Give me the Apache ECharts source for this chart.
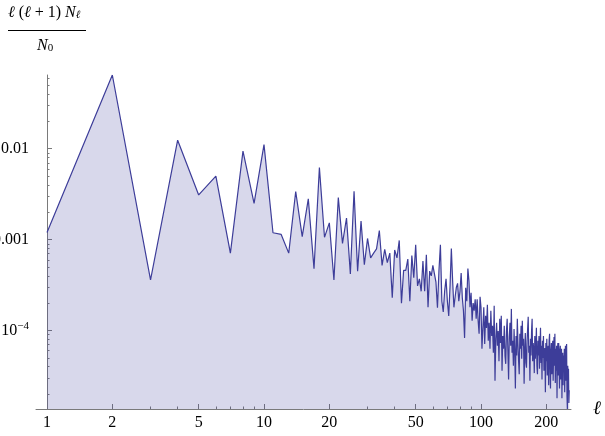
<!DOCTYPE html>
<html>
<head>
<meta charset="utf-8">
<script src="https://cdn.jsdelivr.net/npm/echarts@6/dist/echarts.min.js"></script>
<style>
html, body { margin: 0; padding: 0; background: #fff; }
#chart { width: 605px; height: 436px; }
</style>
</head>
<body>
<div id="chart"></div>
<script>
// l(l+1) N_l / N_0, l = 1 .. 255
const valuesLow = [ // l = 1..60
  0.0012, 0.0647, 3.6e-4, 0.0124, 0.0031, 0.0050, 7.1e-4, 0.0094, 0.0025, 0.0111,
  0.00119, 0.00114, 7.1e-4, 0.00338, 0.00108, 0.00281, 4.8e-4, 0.0062, 0.00106, 0.00153,
  3.6e-4, 0.0029, 9.1e-4, 0.00173, 4.2e-4, 0.0034, 4.5e-4, 0.0016, 5.3e-4, 0.00103,
  6.3e-4, 7.1e-4, 7.9e-4, 0.00126, 5.2e-4, 7.8e-4, 5.6e-4, 7.1e-4, 2.3e-4, 7.7e-4,
  6.3e-4, 9.8e-4, 2.0e-4, 4.6e-4, 4.6e-4, 6.1e-4, 2.1e-4, 6.7e-4, 3.8e-4, 8.8e-4,
  3.1e-4, 3.7e-4, 2.7e-4, 5.8e-4, 2.7e-4, 6.8e-4, 1.8e-4, 4.5e-4, 4.0e-4, 5.2e-4
];
const valuesMid = [ // l = 61..150
  5.4e-4, 3.4e-4, 1.78e-4, 4.55e-4, 8.8e-4, 2.1e-4, 1.6e-4, 2.74e-4, 3.7e-4, 2.1e-4,
  1.45e-4, 3.1e-4, 8.0e-4, 3.5e-4, 1.8e-4, 2.35e-4, 3.0e-4, 3.3e-4, 2.1e-4, 2.7e-4,
  4.3e-4, 2.3e-4, 1.65e-4, 8.3e-5, 2.95e-4, 2.1e-4, 4.8e-4, 3.5e-4, 1.8e-4, 2.6e-4,
  1.28e-4, 2.0e-4, 1.65e-4, 2.2e-4, 1.35e-4, 2.2e-4, 1.28e-4, 9.2e-5, 2.35e-4, 1.8e-4,
  6.3e-5, 1.07e-4, 1.8e-4, 7.1e-5, 1.45e-4, 1.07e-4, 1.92e-4, 7.7e-5, 1.22e-4, 6.3e-5,
  1.65e-4, 8.7e-5, 1.13e-4, 5.7e-5, 1.87e-4, 2.8e-5, 8.1e-5, 1.22e-4, 6.8e-5, 9.9e-5,
  4.6e-5, 1.35e-4, 7.3e-5, 1.45e-4, 3.6e-5, 8.7e-5, 6.3e-5, 1.13e-4, 5.3e-5, 4.3e-5,
  9.9e-5, 1.35e-4, 6.0e-5, 2.9e-5, 8.5e-5, 1.22e-4, 6.8e-5, 1.73e-4, 5.7e-5, 7.7e-5,
  4.1e-5, 1.04e-4, 6.0e-5, 2.3e-5, 8.7e-5, 5.3e-5, 1.35e-4, 7.3e-5, 4.6e-5, 3.3e-5
];
const valuesHigh = [ // l = 151..255
  9.2e-5, 6.3e-5, 1.13e-4, 4.9e-5, 1.28e-4, 6.8e-5, 8.1e-5, 2.6e-5, 6.0e-5, 9.4e-5,
  4.4e-5, 3.9e-5, 7.7e-5, 1.04e-4, 1.42e-4, 5.7e-5, 6.8e-5, 2.8e-5, 8.1e-5, 5.3e-5,
  9.9e-5, 1.35e-4, 4.6e-5, 7.3e-5, 6.0e-5, 3.4e-5, 8.7e-5, 4.9e-5, 6.8e-5, 1.07e-4,
  4.1e-5, 3.3e-5, 7.7e-5, 5.3e-5, 8.7e-5, 3.8e-5, 6.3e-5, 1.07e-4, 4.4e-5, 6.8e-5,
  2.9e-5, 7.7e-5, 5.0e-5, 8.7e-5, 3.6e-5, 6.0e-5, 6.4e-5, 2.1e-5, 7.3e-5, 4.6e-5,
  8.1e-5, 3.2e-5, 5.7e-5, 6.8e-5, 2.5e-5, 7.7e-5, 9.2e-5, 3.8e-5, 2.3e-5, 6.0e-5,
  7.3e-5, 3.3e-5, 4.9e-5, 7.7e-5, 2.8e-5, 5.7e-5, 8.5e-5, 4.1e-5, 9.2e-5, 2.65e-5,
  6.3e-5, 3.6e-5, 6.8e-5, 1.8e-5, 5.3e-5, 7.3e-5, 3.2e-5, 7.3e-5, 4.4e-5, 2.3e-5,
  6.0e-5, 6.8e-5, 2.9e-5, 4.9e-5, 6.3e-5, 1.8e-5, 4.6e-5, 5.7e-5, 2.5e-5, 5.3e-5,
  3.6e-5, 6.3e-5, 2.1e-5, 4.4e-5, 6.8e-5, 2.8e-5, 4.9e-5, 7.1e-5, 1.9e-5, 1.37e-5,
  4.1e-5, 2.5e-5, 3.8e-5, 1.6e-5, 2.2e-5
];

const xMajorTicks = [1, 2, 5, 10, 20, 50, 100, 200];
const xMinorTicks = [3, 4, 6, 7, 8, 9, 30, 40, 60, 70, 80, 90];
const yMajorTicks = [0.01, 0.001, 0.0001];
const yTickLabels = ['0.01', '0.001', '{b|10}{sup|\u22124}'];
const yMinorTicks = [
  2e-5, 3e-5, 4e-5, 5e-5, 6e-5, 7e-5, 8e-5, 9e-5,
  2e-4, 3e-4, 4e-4, 5e-4, 6e-4, 7e-4, 8e-4, 9e-4,
  2e-3, 3e-3, 4e-3, 5e-3, 6e-3, 7e-3, 8e-3, 9e-3,
  2e-2, 3e-2, 4e-2, 5e-2, 6e-2
];

const values = valuesLow.concat(valuesMid, valuesHigh);
// log-log plot: both axes carry log10 of the data
const points = values.map((v, i) => [Math.log10(i + 1), Math.log10(v)]);
const lg = a => a.map(v => Math.log10(v));

const serif = "'Liberation Serif', 'Times New Roman', serif";
const axisColor = '#7a7a7a';
const xMin = -0.0507, xMax = 2.4147;

const chart = echarts.init(document.getElementById('chart'));
chart.setOption({
  animation: false,
  grid: { left: 36, right: 34, top: 75, bottom: 27, outerBoundsMode: 'none', containLabel: false },
  xAxis: [
    {
      type: 'value', min: xMin, max: xMax, position: 'bottom',
      axisLine: { onZero: false, lineStyle: { color: axisColor, width: 1 } },
      axisTick: { inside: true, length: 5, customValues: lg(xMajorTicks), lineStyle: { color: axisColor } },
      axisLabel: {
        customValues: lg(xMajorTicks), margin: 6,
        fontFamily: serif, fontSize: 16, color: '#000',
        formatter: v => String(Math.round(Math.pow(10, v)))
      },
      splitLine: { show: false },
      name: 'ℓ', nameLocation: 'end', nameGap: 22,
      nameTextStyle: { fontFamily: serif, fontSize: 19, fontStyle: 'italic', color: '#000', verticalAlign: 'middle' }
    },
    {
      type: 'value', min: xMin, max: xMax, position: 'bottom',
      axisLine: { show: false, onZero: false },
      axisTick: { inside: true, length: 2.5, customValues: lg(xMinorTicks), lineStyle: { color: axisColor } },
      axisLabel: { show: false },
      splitLine: { show: false }
    }
  ],
  yAxis: [
    {
      type: 'value', min: v => v.min, max: v => v.max, position: 'left',
      axisLine: { onZero: true, onZeroAxisIndex: 0, lineStyle: { color: axisColor, width: 1 } },
      axisTick: { inside: true, length: 5, customValues: lg(yMajorTicks), lineStyle: { color: axisColor } },
      axisLabel: {
        customValues: lg(yMajorTicks), margin: 7,
        fontFamily: serif, fontSize: 16, color: '#000',
        formatter: v => {
          let k = 0;
          lg(yMajorTicks).forEach((t, i) => { if (Math.abs(t - v) < 1e-6) k = i; });
          return yTickLabels[k];
        },
        rich: {
          b: { fontFamily: serif, fontSize: 16, color: '#000' },
          sup: { fontFamily: serif, fontSize: 11, color: '#000', padding: [0, 0, 9, 0] }
        }
      },
      splitLine: { show: false }
    },
    {
      type: 'value', min: v => v.min, max: v => v.max, position: 'left',
      axisLine: { show: false, onZero: true, onZeroAxisIndex: 0 },
      axisTick: { inside: true, length: 2.5, customValues: lg(yMinorTicks), lineStyle: { color: axisColor } },
      axisLabel: { show: false },
      splitLine: { show: false }
    }
  ],
  series: [
    {
      type: 'line',
      data: points,
      xAxisIndex: 0,
      yAxisIndex: 0,
      showSymbol: false,
      lineStyle: { color: '#3d3d99', width: 1.2 },
      areaStyle: { color: '#3d3d99', opacity: 0.2, origin: 'start' }
    },
    {
      type: 'line', data: points, xAxisIndex: 1, yAxisIndex: 1,
      showSymbol: false, lineStyle: { opacity: 0 }, silent: true
    }
  ],
  graphic: [
    {
      type: 'text', left: 8, top: 5,
      style: {
        text: '{i|ℓ} ({i|ℓ} + 1) {i|N}{sub|ℓ}',
        fill: '#000', font: "16px 'Liberation Serif', serif",
        rich: {
          i: { fontStyle: 'italic', fontFamily: serif, fontSize: 16, fill: '#000' },
          sub: { fontStyle: 'italic', fontFamily: serif, fontSize: 11, fill: '#000', padding: [5, 0, 0, 0] }
        }
      }
    },
    {
      type: 'line',
      shape: { x1: 8, y1: 30.5, x2: 86, y2: 30.5 },
      style: { stroke: '#000', lineWidth: 1 }
    },
    {
      type: 'text', left: 37, top: 38,
      style: {
        text: '{i|N}{sub|0}',
        fill: '#000', font: "16px 'Liberation Serif', serif",
        rich: {
          i: { fontStyle: 'italic', fontFamily: serif, fontSize: 16, fill: '#000' },
          sub: { fontFamily: serif, fontSize: 11, fill: '#000', padding: [5, 0, 0, 0] }
        }
      }
    }
  ]
});
</script>
</body>
</html>
